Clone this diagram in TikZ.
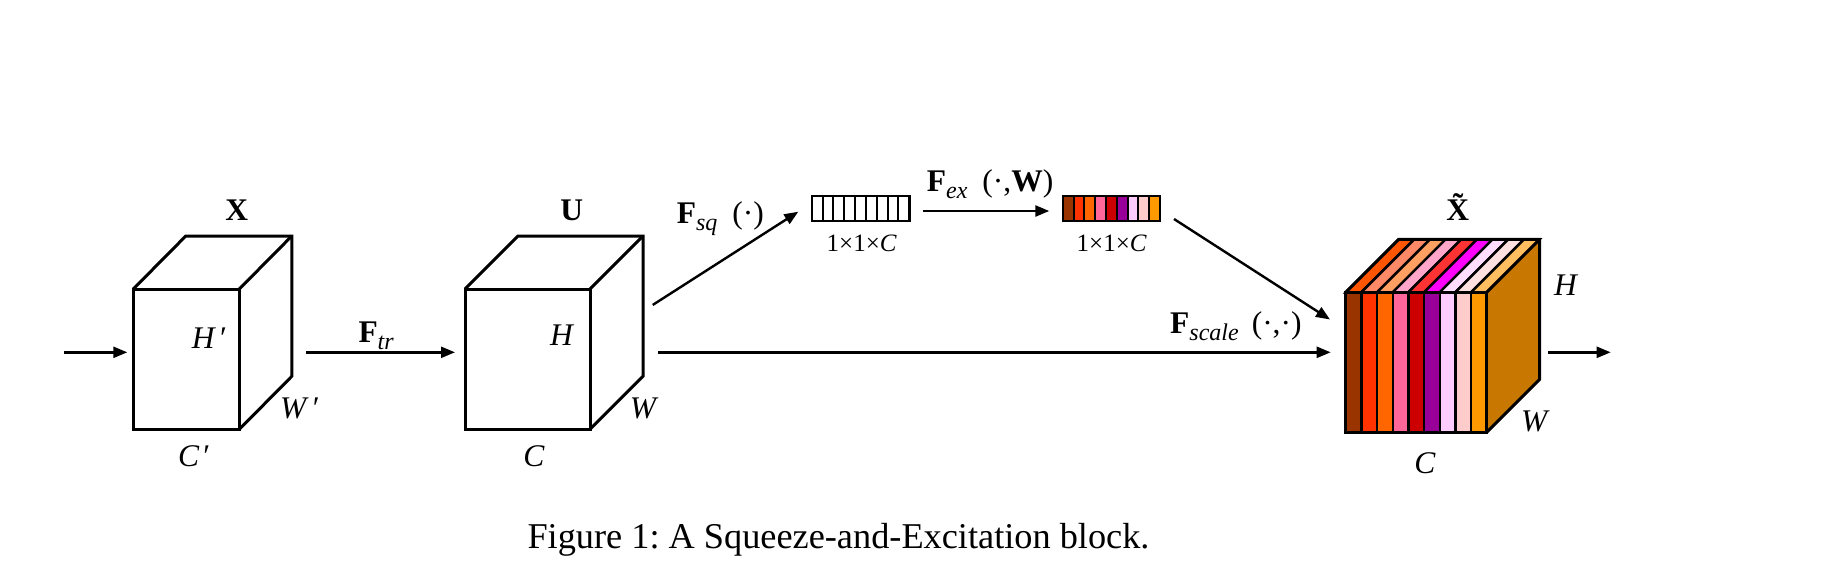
\documentclass[tikz,border=0pt]{standalone}
\usepackage{fontspec}
\setmainfont{Liberation Serif}
\usetikzlibrary{arrows.meta,calc}
\definecolor{c1}{HTML}{993300}
\definecolor{c2}{HTML}{FF3300}
\definecolor{c3}{HTML}{FF6600}
\definecolor{c4}{HTML}{FF6699}
\definecolor{c5}{HTML}{CC0000}
\definecolor{c6}{HTML}{990099}
\definecolor{c7}{HTML}{FFCCFF}
\definecolor{c8}{HTML}{FFCCCC}
\definecolor{c9}{HTML}{FF9900}
\definecolor{t1}{HTML}{FF5500}
\definecolor{t2}{HTML}{FF8866}
\definecolor{t3}{HTML}{FFA062}
\definecolor{t4}{HTML}{FFA6C9}
\definecolor{t5}{HTML}{FF3333}
\definecolor{t6}{HTML}{FF00FF}
\definecolor{t7}{HTML}{FFDDFF}
\definecolor{t8}{HTML}{FFE0E0}
\definecolor{t9}{HTML}{FFBF60}
\definecolor{sidec}{HTML}{C87800}
\newcommand{\labfont}{\fontsize{31.5}{36}\selectfont}
\newcommand{\smallfont}{\fontsize{25}{30}\selectfont}
\newcommand{\capfont}{\fontsize{36.3}{44}\selectfont}
\newcommand{\subsc}[1]{\raisebox{-0.23em}{\fontsize{24}{24}\selectfont\itshape #1}}
\frenchspacing
\begin{document}
\begin{tikzpicture}[x=1pt,y=-1pt,
  face/.style={draw, line width=3pt, inner sep=0pt, outer sep=0pt},
  cube/.style={line width=3pt, line join=miter},
  vec/.style={draw, line width=2.4pt, inner sep=0pt, outer sep=0pt, minimum height=25pt},
  arr/.style={line width=2.4pt, -{Triangle[length=14pt,width=11pt]}},
  lab/.style={inner sep=0pt, font=\labfont, anchor=base},
  small/.style={inner sep=0pt, font=\smallfont, anchor=base}]
\useasboundingbox (0,0) rectangle (1842,582);
\coordinate (lev) at (0,352.3);

% ---- cube X ----
\node[face, minimum width=106pt, minimum height=140.3pt] (xf) at (186.3,359.15) {};
\draw[cube] (xf.north west) -- ++(52.5,-53) -- ++(106,0) -- ++(0,140.3) -- (xf.south east);
\draw[cube] (xf.north east) -- ++(52.5,-53);

% ---- cube U ----
\node[face, minimum width=125pt, minimum height=140.3pt] (uf) at (527.5,359.15) {};
\draw[cube] (uf.north west) -- ++(53,-53) -- ++(125,0) -- ++(0,140.3) -- (uf.south east);
\draw[cube] (uf.north east) -- ++(53,-53);

% ---- coloured cube ----
\foreach \i/\cf/\ct in {0/c1/t1,1/c2/t2,2/c3/t3,3/c4/t4,4/c5/t5,5/c6/t6,6/c7/t7,7/c8/t8,8/c9/t9}{
  \filldraw[fill=\cf, line width=2.4pt] ({1345.7+\i*15.667},292.3) rectangle ++(15.667,140);
  \filldraw[fill=\ct, line width=2.4pt, line join=miter] ({1345.7+\i*15.667},292.3) -- ++(15.667,0) -- ++(53,-53) -- ++(-15.667,0) -- cycle;
}
\fill[sidec] (1486.7,292.3) -- ++(53,-53) -- ++(0,140) -- ++(-53,53) -- cycle;
\node[face, minimum width=141pt, minimum height=140pt] (sf) at (1416.2,362.3) {};
\draw[cube] (sf.north west) -- ++(53,-53) -- ++(141,0) -- ++(0,140) -- (sf.south east);
\draw[cube] (sf.north east) -- ++(53,-53);

% ---- vectors ----
\node[vec, minimum width=97.6pt] (vq) at (860.5,208.5) {};
\foreach \i in {1,...,8}
  \draw[line width=2pt] ($(vq.north west)+(\i*10.844,0)$) -- ++(0,25);
\foreach \i/\cf in {0/c1,1/c2,2/c3,3/c4,4/c5,5/c6,6/c7,7/c8,8/c9}
  \filldraw[fill=\cf, line width=2pt] ({1062.7+\i*10.811},196) rectangle ++(10.811,25);
\node[vec, minimum width=97.3pt] (ve) at (1111.35,208.5) {};

% ---- arrows ----
\coordinate (in) at (64,352.3);
\coordinate (out) at (1610.7,352.3);
\draw[arr] (in) -- ($(xf.west|-lev)+(-6,0)$);
\draw[arr] ($(xf.east|-lev)+(67,0)$) -- ($(uf.west|-lev)+(-10,0)$);
\draw[arr] ($(uf.east|-lev)+(68.3,0)$) -- ($(sf.west|-lev)+(-15,0)$);
\draw[arr] ($(sf.east|-lev)+(61.6,0)$) -- (out);
\draw[arr] ($(uf.east)+(62.7,-54.2)$) -- ($(vq.west)+(-13.4,3.2)$);
\draw[arr] ($(vq.east)+(14,2.5)$) -- ($(ve.west)+(-13.4,2.5)$);
\draw[arr] ($(ve.east)+(14,10.5)$) -- ($(sf.west)+(-15.7,-42.8)$);

% ---- labels ----
\node[lab] (lX) at (236.7,220) {\textbf{X}};
\node[lab] (lU) at (571.7,220) {\textbf{U}};
\node[lab] (lXt) at (1463,220) {\textbf{\~{X}}};
\node[lab] (lH1) at (209.5,348.3) {\textit{H}\hspace{4pt}′};
\node[lab] (lH2) at (562.2,345) {\textit{H}};
\node[lab] (lH3) at (1566.3,295) {\textit{H}};
\node[lab, anchor=base west] (lW1) at (280,418) {\textit{W}\hspace{4pt}′};
\node[lab] (lW2) at (644.2,418.3) {\textit{W}};
\node[lab] (lW3) at (1535.5,431.7) {\textit{W}};
\node[lab] (lC1) at (194.2,466.7) {\textit{C}\hspace{4pt}′};
\node[lab] (lC2) at (534,466.7) {\textit{C}};
\node[lab] (lC3) at (1425,473.3) {\textit{C}};
\node[lab, anchor=base west] (lFtr) at (358.3,342.7) {\textbf{F}\subsc{tr}};
\node[lab, anchor=base west] (lFsq) at (676.7,223.3) {\textbf{F}\subsc{sq}\hspace{15pt}(·)};
\node[lab, anchor=base west] (lFex) at (926.7,191.7) {\textbf{F}\subsc{ex}\hspace{15pt}(·,\textbf{W})};
\node[lab, anchor=base west] (lFsc) at (1170,333.3) {\textbf{F}\subsc{scale}\hspace{13pt}(·,·)};
\node[small] (ls1) at (861.7,251.7) {1×1×\textit{C}};
\node[small] (ls2) at (1111.7,251.7) {1×1×\textit{C}};
\node[inner sep=0pt, font=\capfont, anchor=base west] (cap) at (527.3,548.3) {Figure 1: A Squeeze-and-Excitation block.};
\end{tikzpicture}
\end{document}
